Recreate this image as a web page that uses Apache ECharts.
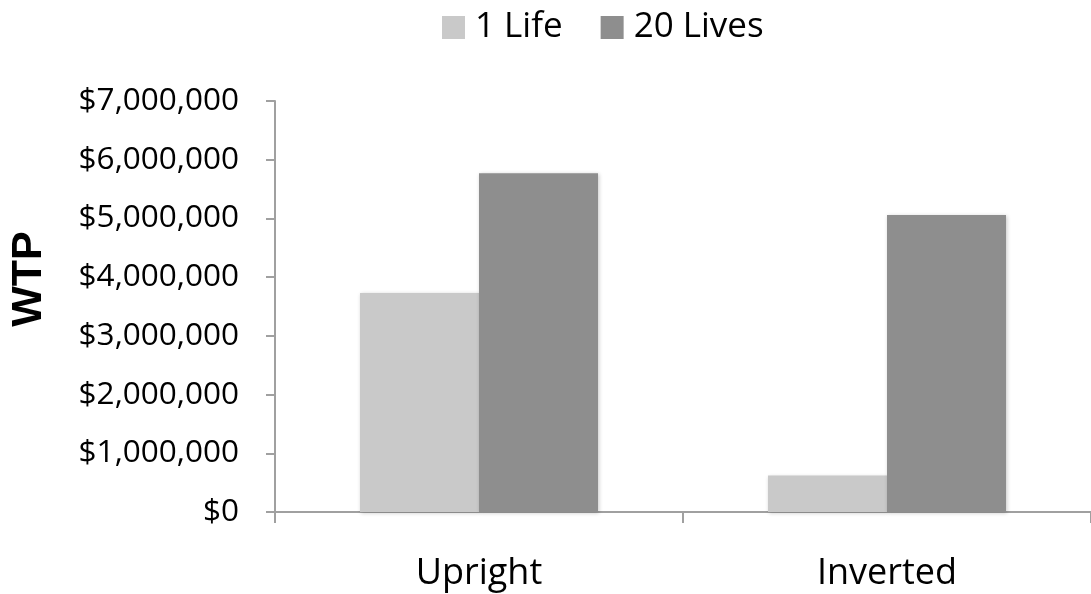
<!DOCTYPE html>
<html>
<head>
<meta charset="utf-8">
<script src="https://cdn.jsdelivr.net/npm/echarts@6/dist/echarts.min.js"></script>
<style>
  html, body { margin: 0; padding: 0; background: #fff; }
  #chart { width: 1091px; height: 594px; }
</style>
</head>
<body>
<div id="chart"></div>
<script>
// Willingness to pay by framing condition
const categories = ['Upright', 'Inverted'];
const oneLife = [3730000, 620000];
const twentyLives = [5770000, 5060000];
const seriesNames = ['1 Life', '20 Lives'];
const axisTitle = 'WTP';

const fontFamily = '"Open Sans", "Liberation Sans", sans-serif';
const chart = echarts.init(document.getElementById('chart'));

function money(v) {
  return '$' + v.toLocaleString('en-US');
}

const barShadow = {
  shadowColor: 'rgba(0,0,0,0.22)',
  shadowBlur: 4,
  shadowOffsetX: 1,
  shadowOffsetY: 1
};

chart.setOption({
  animation: false,
  backgroundColor: '#fff',
  legend: {
    top: 5,
    left: 437,
    itemWidth: 23,
    itemHeight: 23,
    itemGap: 38,
    icon: 'rect',
    textStyle: {
      fontSize: 35,
      lineHeight: 35,
      color: '#000',
      fontFamily: fontFamily,
      padding: [0, 0, 0, 5]
    }
  },
  graphic: [{
    type: 'text',
    x: 29,
    y: 279,
    rotation: Math.PI / 2,
    style: {
      text: axisTitle,
      fontSize: 43,
      fontWeight: 'bold',
      fontFamily: '"Liberation Sans", Arial, sans-serif',
      fill: '#000',
      align: 'center',
      verticalAlign: 'middle'
    }
  }],
  grid: { left: 275, top: 101, width: 822, height: 411, containLabel: false },
  xAxis: {
    type: 'category',
    data: categories,
    axisLine: { lineStyle: { color: '#a0a0a0', width: 2 } },
    axisTick: { show: true, length: 11, lineStyle: { color: '#a0a0a0', width: 2 } },
    axisLabel: { fontSize: 36, color: '#000', margin: 44, fontFamily: fontFamily }
  },
  yAxis: {
    type: 'value',
    min: 0,
    max: 7000000,
    interval: 1000000,
    axisLine: { show: true, lineStyle: { color: '#a0a0a0', width: 2 } },
    axisTick: { show: true, length: 9, lineStyle: { color: '#a0a0a0', width: 2 } },
    splitLine: { show: false },
    axisLabel: {
      fontSize: 31.5,
      color: '#000',
      margin: 36,
      fontFamily: fontFamily,
      formatter: money,
      padding: [6, 0, 0, 0]
    }
  },
  series: [
    {
      name: seriesNames[0],
      type: 'bar',
      data: oneLife,
      barWidth: 119,
      barGap: '0%',
      itemStyle: Object.assign({ color: '#c9c9c9' }, barShadow)
    },
    {
      name: seriesNames[1],
      type: 'bar',
      data: twentyLives,
      barWidth: 119,
      barGap: '0%',
      itemStyle: Object.assign({ color: '#8e8e8e' }, barShadow)
    }
  ]
});
</script>
</body>
</html>
